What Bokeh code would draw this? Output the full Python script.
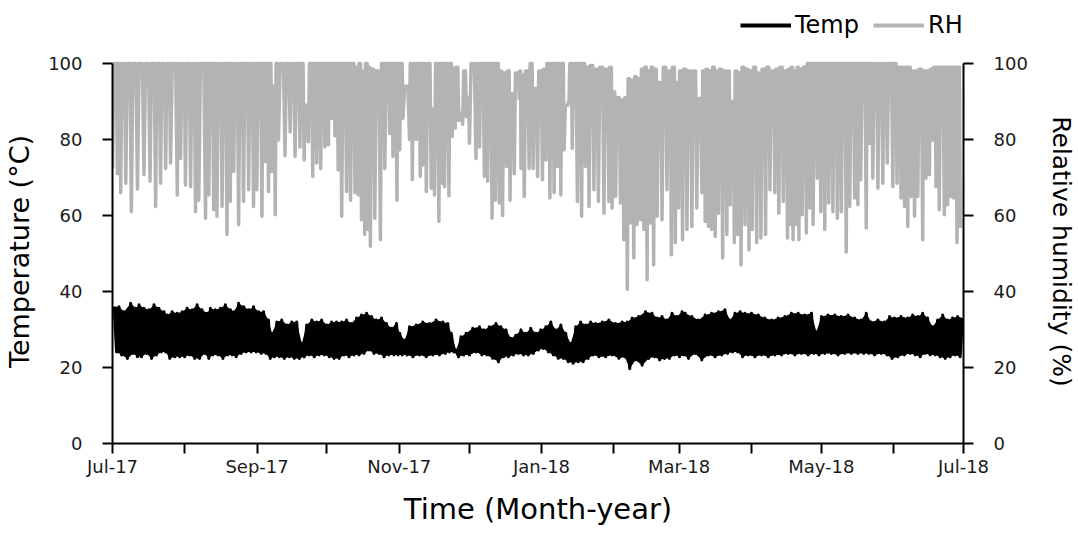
from bokeh.plotting import figure
from bokeh.layouts import column
from bokeh.models import Range1d, LinearAxis, FixedTicker, Legend, LegendItem
from bokeh.embed import file_html
from bokeh.resources import INLINE

FONT = "DejaVu Sans"
RH_COLOR = "#b3b3b3"

# Time axis: days since 1 Jul 2017, one tick per month, labels every second month
month_start = [0, 31, 62, 92, 123, 153, 184, 215, 243, 274, 304, 335, 365]
month_label = ["Jul-17", "", "Sep-17", "", "Nov-17", "", "Jan-18", "",
               "Mar-18", "", "May-18", "", "Jul-18"]
value_ticks = [0, 20, 40, 60, 80, 100]

# Relative humidity (%): day of each daily low, the low, and the peak that follows it
rh_day = [
    0.0, 2.1, 3.5, 5.7, 8.1, 10.7, 13.5, 16.1, 18.5, 20.6,
    22.8, 24.9, 27.8, 29.2, 31.3, 33.5, 35.6, 37.0, 39.9, 41.3,
    43.4, 44.8, 47.0, 49.1, 50.5, 52.0, 54.1, 56.2, 58.4, 60.5,
    61.9, 64.1, 65.5, 66.9, 68.3, 69.8, 71.2, 74.0, 76.2, 78.3,
    80.4, 82.2, 84.0, 85.9, 87.6, 89.3, 91.1, 92.6, 94.0, 95.4,
    96.8, 98.3, 100.4, 102.1, 104.0, 105.4, 106.8, 108.2, 109.6, 110.6,
    112.5, 114.9, 116.8, 118.9, 120.3, 122.0, 123.2, 124.6, 127.4, 128.6,
    130.3, 132.0, 133.1, 134.6, 136.7, 138.1, 140.0, 141.4, 142.4, 144.3,
    145.7, 147.0, 148.5, 150.2, 151.8, 153.1, 155.9, 157.4, 159.5, 160.9,
    162.8, 164.2, 165.9, 167.3, 169.0, 170.5, 172.3, 174.5, 175.2, 176.6,
    178.7, 180.4, 182.3, 184.4, 185.9, 187.6, 189.4, 190.8, 192.3, 193.7,
    195.8, 197.2, 199.4, 201.2, 202.9, 204.4, 206.5, 208.4, 210.8, 212.9,
    214.3, 215.8, 217.9, 219.3, 220.8, 222.2, 223.6, 225.0, 226.5, 227.9,
    229.3, 230.7, 232.1, 233.6, 235.7, 237.8, 239.7, 241.4, 242.8, 244.5,
    246.4, 248.5, 250.6, 252.8, 254.2, 255.6, 257.0, 258.5, 259.9, 261.7,
    263.5, 264.9, 266.7, 268.2, 269.6, 271.3, 273.0, 274.4, 276.3, 278.1,
    280.1, 282.0, 284.1, 285.8, 287.7, 289.5, 290.9, 291.9, 293.4, 294.4,
    295.8, 297.6, 299.1, 300.5, 302.3, 303.8, 305.5, 307.2, 309.0, 310.9,
    312.6, 314.7, 316.2, 318.3, 319.7, 320.9, 323.3, 324.7, 326.1, 328.3,
    330.4, 332.3, 334.7, 336.5, 338.2, 339.7, 341.1, 342.5, 344.0, 345.4,
    347.5, 348.9, 350.4, 351.8, 353.2, 354.6, 356.8, 358.2, 359.6, 360.7,
    362.2, 363.6,
]
rh_min = [
    72.4, 71.0, 66.0, 68.5, 61.0, 67.0, 70.7, 69.0, 62.4, 68.5,
    72.4, 73.8, 65.4, 75.0, 68.0, 67.6, 61.0, 64.0, 59.3, 65.4,
    61.5, 59.8, 62.4, 55.0, 63.7, 71.6, 57.6, 63.7, 66.8, 62.4,
    66.8, 59.8, 74.2, 66.3, 71.6, 60.2, 79.9, 75.7, 82.0, 75.5,
    78.0, 74.6, 79.4, 70.3, 73.8, 72.4, 78.0, 78.6, 85.6, 81.0,
    72.0, 59.8, 66.3, 64.0, 66.0, 65.4, 58.9, 55.0, 56.3, 51.9,
    59.3, 53.6, 72.4, 81.6, 75.5, 64.0, 77.3, 85.6, 80.0, 69.4,
    80.0, 70.3, 73.3, 66.3, 67.2, 65.4, 58.4, 68.5, 67.6, 65.2,
    80.8, 83.0, 85.0, 84.0, 86.0, 79.0, 75.0, 78.0, 70.3, 69.0,
    59.3, 64.0, 63.3, 60.0, 72.9, 64.0, 71.0, 90.8, 72.4, 65.0,
    72.4, 72.4, 70.3, 69.4, 74.6, 64.6, 66.0, 72.9, 65.4, 77.3,
    90.4, 77.7, 63.7, 59.8, 72.9, 62.4, 66.8, 63.7, 60.6, 63.7,
    62.0, 65.0, 63.3, 53.6, 40.5, 58.0, 48.8, 57.6, 58.9, 56.3,
    43.1, 58.0, 47.0, 59.8, 58.9, 66.8, 49.7, 52.8, 62.0, 53.6,
    56.3, 57.1, 62.0, 66.0, 58.4, 57.1, 56.3, 54.5, 60.6, 48.8,
    55.0, 62.8, 52.8, 55.0, 47.0, 57.6, 51.0, 56.3, 52.8, 54.1,
    55.0, 66.8, 66.0, 60.6, 63.7, 54.1, 57.6, 53.6, 57.6, 53.6,
    60.2, 55.4, 62.0, 57.6, 69.8, 61.0, 56.3, 63.3, 61.0, 59.3,
    61.0, 50.4, 62.4, 64.6, 62.8, 69.4, 56.7, 79.0, 69.8, 67.2,
    68.5, 73.8, 67.6, 68.5, 64.6, 62.4, 57.1, 65.0, 59.8, 65.0,
    53.6, 69.8, 70.7, 79.9, 67.6, 61.5, 60.2, 62.8, 65.0, 64.6,
    52.8, 56.7,
]
rh_max = [
    100, 100, 100, 100, 100, 100, 100, 100, 100, 100,
    100, 100, 100, 100, 100, 100, 100, 100, 100, 100,
    100, 100, 100, 100, 100, 100, 100, 100, 100, 100,
    100, 100, 100, 100, 94, 100, 100, 100, 100, 100,
    100, 89, 100, 100, 100, 100, 100, 100, 100, 100,
    100, 100, 100, 100, 99, 100, 98, 100, 99, 98.5,
    98, 100, 100, 100, 100, 100, 100, 94, 100, 100,
    100, 100, 100, 100, 88, 100, 100, 100, 100, 100,
    98.7, 99, 87, 98, 91, 100, 100, 100, 100, 100,
    100, 100, 98, 97.5, 98, 92, 97.5, 98, 97, 98,
    100, 93.4, 98, 98.5, 100, 100, 100, 100, 100, 89,
    100, 100, 100, 100, 99, 99.5, 98.5, 99, 98.5, 99,
    92.5, 91, 90.4, 91, 96, 95.5, 96.5, 96, 98.5, 99,
    98, 99, 98.5, 95, 99, 98, 99, 95, 98, 98.5,
    98, 98, 90.8, 98, 98.5, 98, 99, 98, 98.5, 98,
    98, 90, 98, 97.5, 99, 98.5, 98, 99, 97.5, 98.5,
    99, 98, 98.5, 99, 98, 98.5, 99, 98, 99, 98.5,
    99, 100, 100, 100, 100, 100, 100, 100, 100, 100,
    100, 100, 100, 100, 100, 100, 100, 100, 100, 100,
    100, 100, 100, 99, 99, 99, 99, 98, 98, 98.5,
    98, 98, 98.5, 99, 99, 99, 99, 99, 99, 99,
    99, 99,
]

# Temperature (°C): day of each daily peak, the peak, and the low that follows it
temp_day = [
    0.7, 2.8, 5.0, 7.8, 10.0, 11.4, 13.5, 15.7, 17.8, 19.9,
    22.1, 23.5, 25.6, 27.8, 29.9, 32.0, 34.2, 36.3, 38.4, 40.6,
    42.0, 44.1, 46.3, 48.4, 50.6, 52.0, 54.1, 56.3, 58.4, 60.5,
    62.7, 64.8, 66.9, 68.4, 70.5, 72.6, 74.8, 76.9, 79.0, 81.2,
    83.3, 85.5, 87.6, 89.7, 91.9, 94.0, 96.1, 98.3, 100.4, 102.5,
    104.7, 106.8, 109.0, 111.1, 113.2, 115.4, 117.5, 119.6, 121.8, 123.2,
    125.3, 127.4, 130.3, 133.1, 136.0, 138.8, 141.7, 143.8, 145.3, 147.4,
    149.5, 151.7, 154.5, 157.4, 159.5, 161.6, 164.5, 166.6, 168.8, 170.9,
    173.0, 175.2, 177.3, 179.4, 181.6, 183.7, 185.9, 188.0, 190.1, 192.3,
    194.4, 196.5, 198.7, 200.8, 202.9, 205.1, 207.2, 210.1, 212.9, 215.8,
    218.6, 220.8, 222.9, 225.7, 228.6, 231.4, 233.6, 235.7, 237.8, 240.0,
    242.1, 244.3, 245.6, 248.5, 251.3, 254.2, 257.0, 259.9, 262.7, 264.9,
    267.0, 269.2, 271.3, 274.1, 277.0, 279.8, 282.7, 285.5, 288.4, 291.2,
    294.1, 296.9, 299.8, 301.9, 304.1, 306.9, 309.8, 312.6, 315.5, 318.3,
    321.1, 323.3, 325.4, 328.3, 331.1, 333.3, 335.4, 338.2, 341.1, 343.2,
    345.4, 347.5, 349.6, 351.8, 353.9, 356.1, 358.2, 360.3, 362.5, 364.6,
]
temp_max = [
    36.0, 36.0, 34.7, 36.9, 35.6, 36.5, 35.6, 35.2, 36.5, 35.6,
    34.7, 33.8, 34.7, 34.3, 34.7, 35.6, 35.2, 36.5, 35.2, 34.3,
    35.6, 35.2, 35.6, 36.5, 35.2, 34.7, 36.9, 36.0, 35.2, 36.0,
    34.7, 34.7, 32.5, 29.0, 32.0, 32.5, 31.2, 32.0, 32.0, 26.3,
    31.2, 32.5, 32.0, 32.5, 31.2, 32.0, 32.0, 32.0, 32.5, 31.6,
    33.0, 33.8, 34.3, 33.4, 32.5, 33.0, 31.6, 30.3, 31.6, 29.0,
    27.2, 30.7, 31.2, 32.0, 31.6, 32.5, 32.0, 31.6, 29.0, 24.6,
    28.1, 29.0, 30.3, 30.7, 29.9, 30.7, 31.6, 30.7, 29.9, 27.7,
    28.5, 29.9, 29.0, 30.3, 29.0, 29.9, 30.7, 32.0, 29.9, 31.2,
    29.0, 26.3, 30.7, 32.0, 31.2, 32.0, 31.6, 32.0, 32.5, 31.6,
    32.0, 32.0, 33.0, 33.4, 34.7, 34.3, 33.0, 33.4, 32.5, 34.3,
    33.4, 34.7, 34.3, 33.4, 32.5, 33.8, 34.3, 34.7, 35.2, 32.5,
    34.3, 34.7, 34.3, 34.3, 33.8, 33.0, 32.5, 33.0, 33.4, 34.3,
    34.3, 33.8, 34.3, 29.4, 33.4, 33.8, 33.8, 33.4, 33.8, 33.0,
    32.5, 34.3, 32.0, 32.5, 32.0, 33.4, 33.0, 33.4, 33.0, 33.8,
    33.4, 34.3, 33.0, 30.7, 32.5, 33.8, 32.5, 33.0, 33.4, 33.0,
]
temp_min = [
    24.1, 23.3, 22.4, 23.7, 22.8, 22.8, 23.7, 22.4, 23.3, 24.1,
    24.1, 22.4, 22.8, 22.8, 22.8, 23.3, 22.4, 22.4, 23.7, 22.4,
    23.3, 23.3, 22.4, 23.3, 23.3, 22.8, 23.7, 24.1, 24.1, 24.1,
    23.7, 23.7, 22.4, 22.8, 22.8, 22.4, 22.8, 22.4, 22.4, 22.8,
    23.3, 22.8, 23.3, 23.3, 22.8, 22.4, 22.4, 23.3, 22.8, 23.3,
    23.3, 23.7, 24.6, 23.7, 23.7, 22.8, 23.3, 23.3, 23.3, 23.3,
    23.3, 22.8, 23.3, 22.8, 23.3, 23.3, 23.7, 24.1, 24.1, 22.8,
    23.3, 23.3, 24.1, 23.3, 23.3, 22.4, 21.5, 22.8, 22.8, 23.3,
    23.7, 23.3, 23.3, 23.7, 24.6, 25.0, 24.1, 23.3, 22.4, 22.4,
    21.5, 21.1, 21.5, 21.5, 22.4, 23.3, 22.8, 22.8, 23.3, 22.4,
    22.8, 19.7, 22.0, 20.6, 22.4, 22.8, 22.0, 22.4, 22.4, 23.3,
    22.8, 23.3, 22.4, 23.7, 22.0, 23.3, 22.8, 23.3, 23.7, 24.1,
    24.1, 22.8, 23.3, 22.8, 23.3, 22.8, 23.3, 23.3, 23.7, 23.3,
    23.7, 23.3, 23.7, 23.3, 23.7, 23.7, 23.3, 23.7, 23.7, 23.7,
    23.7, 23.7, 23.3, 23.7, 23.3, 22.4, 22.8, 23.3, 23.7, 23.3,
    22.8, 23.7, 23.3, 23.3, 22.8, 22.4, 22.8, 23.3, 22.8, 23.7,
]


def rh_trace(days, lows, peaks):
    """Humidity drops to each daily low and holds its peak for the middle half of the gap."""
    xs, ys = [], []
    for i, d in enumerate(days):
        xs.append(d)
        ys.append(lows[i])
        if i < len(days) - 1:
            gap = days[i + 1] - d
            xs += [d + gap / 4, d + 3 * gap / 4]
            ys += [peaks[i], peaks[i]]
    return xs, ys


def temp_trace(days, peaks, lows):
    """Temperature peaks at each day and reaches its low halfway to the next one."""
    xs, ys = [], []
    for i, d in enumerate(days):
        xs.append(d)
        ys.append(peaks[i])
        if i < len(days) - 1:
            xs.append((d + days[i + 1]) / 2)
            ys.append(lows[i])
    return xs, ys


rh_x, rh_y = rh_trace(rh_day, rh_min, rh_max)
t_x, t_y = temp_trace(temp_day, temp_max, temp_min)

# Outline of the daily temperature range: peaks forward, lows back
t_mid = [(a + b) / 2 for a, b in zip(temp_day[:-1], temp_day[1:])]
band_x = list(temp_day) + t_mid[::-1]
band_y = list(temp_max) + list(temp_min[:-1])[::-1]

# ---- main chart -------------------------------------------------------------
# 3.8 px per unit; the frame reaches a little above 100 so the humidity trace
# is not cut at its peaks, while the value axes stop at 100.
PX_PER_UNIT = 3.8
MAIN_H, TOP, BOTTOM = 502, 14, 104
y_top = (MAIN_H - TOP - BOTTOM) / PX_PER_UNIT

p = figure(
    width=1078, height=MAIN_H,
    x_range=Range1d(0, 365), y_range=Range1d(0, y_top),
    output_backend="svg", toolbar_location=None,
    min_border_left=112, min_border_right=112,
    min_border_top=TOP, min_border_bottom=BOTTOM,
)
p.extra_y_ranges = {"rh": Range1d(0, y_top)}
p.grid.visible = False
p.outline_line_color = None
p.background_fill_color = "white"
p.border_fill_color = "white"

p.line(rh_x, rh_y, y_range_name="rh", line_color=RH_COLOR,
       line_width=3.5, line_join="round")
p.patch(band_x, band_y, fill_color="black", line_color=None)
p.line(t_x, t_y, line_color="black", line_width=3, line_join="round")


def style_axis(ax, title_size):
    ax.axis_line_color = "black"
    ax.axis_line_width = 2
    ax.major_tick_line_color = "black"
    ax.major_tick_line_width = 2
    ax.major_tick_in = 0
    ax.major_tick_out = 10
    ax.minor_tick_line_color = "black"
    ax.minor_tick_line_width = 2
    ax.minor_tick_in = 0
    ax.minor_tick_out = 10
    ax.major_label_text_font = FONT
    ax.major_label_text_font_size = "18px"
    ax.major_label_text_color = "#1a1a1a"
    ax.axis_label_text_font = FONT
    ax.axis_label_text_font_size = title_size
    ax.axis_label_text_font_style = "normal"
    ax.axis_label_text_color = "black"


# Bottom time axis
xax = p.xaxis[0]
major_days = [d for d, lab in zip(month_start, month_label) if lab]
minor_days = [d for d, lab in zip(month_start, month_label) if not lab]
xax.ticker = FixedTicker(ticks=major_days, minor_ticks=minor_days)
xax.major_label_overrides = {d: lab for d, lab in zip(month_start, month_label) if lab}
xax.axis_label = "Time (Month-year)"
style_axis(xax, "29px")
xax.major_label_standoff = 2
xax.axis_label_standoff = 12

# Left temperature axis
yax = p.yaxis[0]
yax.ticker = FixedTicker(ticks=value_ticks, minor_ticks=[])
yax.bounds = (0, 100)
yax.axis_label = "Temperature (°C)"
style_axis(yax, "27px")
yax.major_label_standoff = 20
yax.axis_label_standoff = 10

# Right humidity axis
rax = LinearAxis(y_range_name="rh", axis_label="Relative humidity (%)", bounds=(0, 100))
rax.ticker = FixedTicker(ticks=value_ticks, minor_ticks=[])
style_axis(rax, "25px")
rax.major_label_standoff = 20
rax.axis_label_standoff = 16
p.add_layout(rax, "right")

# ---- legend strip above the chart ------------------------------------------
# Its frame lines up with the chart frame below it (x from 112 to 966).
key = figure(
    width=1078, height=45,
    x_range=Range1d(0, 1), y_range=Range1d(0, 1),
    output_backend="svg", toolbar_location=None,
    min_border_left=112, min_border_right=100,
    min_border_top=0, min_border_bottom=0,
    x_axis_location=None, y_axis_location=None,
)
key.grid.visible = False
key.outline_line_color = None
key.background_fill_color = "white"
key.border_fill_color = "white"
# Key-only renderers: a single missing point, so only their legend swatch shows
nan = float("nan")
temp_key = key.line(x=[nan], y=[nan], line_color="black", line_width=4)
rh_key = key.line(x=[nan], y=[nan], line_color=RH_COLOR, line_width=4)

legend = Legend(
    items=[LegendItem(label="Temp", renderers=[temp_key]),
           LegendItem(label="RH", renderers=[rh_key])],
    orientation="horizontal",
    location=(628, 6),
    glyph_width=51, glyph_height=20,
    label_standoff=4, spacing=14, padding=0, margin=0,
    label_text_font=FONT, label_text_font_size="24px", label_text_color="black",
    border_line_alpha=0, background_fill_alpha=0,
)
key.add_layout(legend, "center")

page = column(key, p, spacing=0)
open("out.html", "w").write(file_html(page, INLINE))
